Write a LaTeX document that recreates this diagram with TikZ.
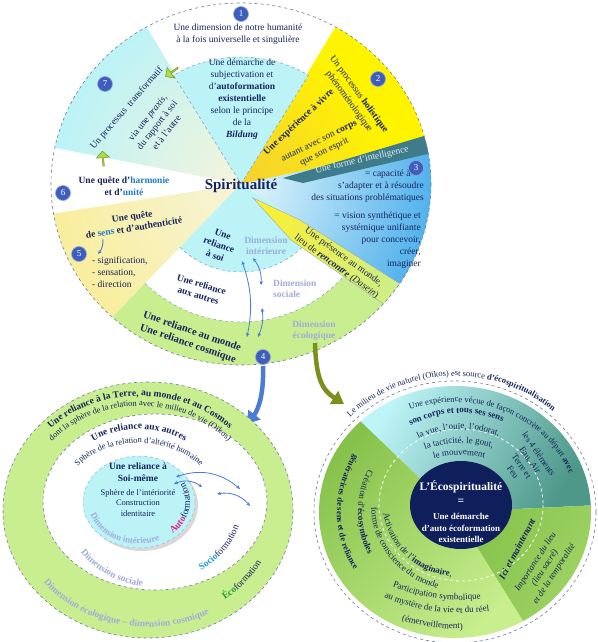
\documentclass[tikz,border=0pt]{standalone}
\usepackage{fontspec}
\setmainfont{Liberation Serif}
\usetikzlibrary{arrows.meta, decorations.text, shapes.arrows}
\definecolor{Navy}   {HTML}{16235C}
\definecolor{Deep}   {HTML}{0E1F5B}
\definecolor{NumB}   {HTML}{3E5EBE}
\definecolor{CyanF}  {HTML}{BBF3F7}
\definecolor{GreenF} {HTML}{C9EE8F}
\definecolor{YelF}   {HTML}{F9EE9C}
\definecolor{PaleY}  {HTML}{F6F4DA}
\definecolor{YelB}   {HTML}{FFF400}
\definecolor{Gold}   {HTML}{F4D032}
\definecolor{TealB}  {HTML}{3E7C8B}
\definecolor{BlueO}  {HTML}{52B2EC}
\definecolor{BlueI}  {HTML}{E6F8FC}
\definecolor{DimT}   {HTML}{A1ACDB}
\definecolor{ArrB}   {HTML}{4A7CD6}
\definecolor{Olive}  {HTML}{7B8F1D}
\definecolor{Lime}   {HTML}{A6DF46}
\definecolor{KeyB}   {HTML}{1C7BC9}
\definecolor{Rim}    {HTML}{6A7EA2}
\definecolor{RCyan}  {HTML}{BEF5F8}
\definecolor{RTeal}  {HTML}{4E9889}
\definecolor{RGreenD}{HTML}{86C24B}
\definecolor{RGreenM}{HTML}{84C24A}
\definecolor{RGreenL}{HTML}{C8EE8E}
\definecolor{Mag}    {HTML}{E3207F}
\definecolor{SocB}   {HTML}{1E9BE0}
\definecolor{EcoG}   {HTML}{26993A}
\definecolor{PresY}  {HTML}{FFF02A}
\newcommand\ftA{\fontsize{9.5}{11}\selectfont}
\newcommand\ftB{\fontsize{8.5}{10}\selectfont}
\newcommand\ftC{\fontsize{9}{10.5}\selectfont}
\tikzset{
  txt/.style={
    font=\fontsize{9.5}{12}\selectfont, text=Navy,
    align=center, inner sep=1pt,
  },
  btxt/.style={txt, font=\fontsize{9.5}{11.5}\selectfont\bfseries},
  dim/.style={
    font=\fontsize{9.5}{11}\selectfont\bfseries, text=DimT,
    align=center, inner sep=1pt,
  },
  num/.style={
    circle, fill=NumB, draw=NumB!55!white, line width=0.6pt,
    text=white, font=\fontsize{9}{9}\selectfont,
    inner sep=0pt, minimum size=15pt,
  },
  rim/.style={draw=Rim, dashed, line width=0.6pt},
  seam/.style={draw=Rim!80, dashed, line width=0.5pt},
  dbl/.style={
    {Stealth[length=4pt,width=3.5pt]}-{Stealth[length=4pt,width=3.5pt]},
    ArrB, line width=0.8pt,
  },
  fat/.style={
    -{Triangle[length=12pt,width=15pt]},
    line width=4.5pt, color=#1,
  },
  gblk/.style={
    single arrow, fill=Lime, draw=Olive, line width=0.5pt,
    minimum height=15pt, minimum width=13pt,
    single arrow head extend=2pt, inner sep=0pt,
  },
  arctext/.style={
    decorate,
    decoration={text along path, text align=center, text={#1}},
  },
}
\begin{document}
\begin{tikzpicture}[x=1pt,y=-1pt]
  \useasboundingbox (0,0) rectangle (597,642);

  % ---- upper wheel
  \coordinate (C) at (241,184);
  \begin{scope}
    \clip (C) ellipse[x radius=190, y radius=181];
    \fill[white] (C) ellipse[x radius=190, y radius=181];
    \begin{scope}
      \clip (C) -- ++(-12:200) arc[start angle=-12, end angle=-59, radius=200] -- cycle;
      \fill[YelB] (C) circle[radius=200];
      \shade[inner color=Gold, outer color=YelB] (C) circle[radius=150];
    \end{scope}
    \begin{scope}
      \clip (C) -- ++(33:200) arc[start angle=33, end angle=-12, radius=200] -- cycle;
      \shade[inner color=BlueI, outer color=BlueO] (C) circle[radius=190];
    \end{scope}
    \begin{scope}
      \clip (C) -- ++(-121:200) arc[start angle=-121, end angle=-169, radius=200] -- cycle;
      \shade[inner color=PaleY, outer color=CyanF] (C) circle[radius=190];
    \end{scope}
    \begin{scope}
      \clip (C) -- ++(-189:200) arc[start angle=-189, end angle=-226, radius=200] -- cycle;
      \shade[inner color=PaleY, outer color=YelF] (C) circle[radius=190];
    \end{scope}
    \fill[GreenF] (C) -- ++(-226:200) arc[start angle=-226, end angle=-327, radius=200] -- cycle;
    \fill[white] (C) -- ++(-226:138) arc[start angle=-226, end angle=-327, radius=138] -- cycle;
    \fill[CyanF] (C) -- ++(-226:88) arc[start angle=-226, end angle=-327, radius=88] -- cycle;
    \draw[seam] (C) ++(-226:138) arc[start angle=-226, end angle=-327, radius=138];
    \draw[seam] (C) ++(-226:88) arc[start angle=-226, end angle=-327, radius=88];
    \filldraw[fill=CyanF, seam] (C) -- ++(-59:131 and 127)
      arc[start angle=-59, end angle=-121, x radius=131, y radius=127] -- cycle;
    % bands
    \fill[TealB] (283,178) -- (330,164) -- (424,136) -- (432,153) -- (303,183) -- cycle;
    \shade[left color=PresY, right color=GreenF, draw=Rim!70, line width=0.4pt]
      (253,198) -- (300,220) -- (405,287) -- (385,305) -- (291,240) -- cycle;
  \end{scope}
  \draw[rim] (C) ellipse[x radius=190, y radius=181];

  \node[font=\fontsize{15}{15}\selectfont\bfseries, text=Navy] (spi) at (241,186) {Spiritualité};
  \node[txt] (t1) at (238,34) {Une dimension de notre humanité\\à la fois universelle et singulière};
  \node[txt] (t1b) at (242,99) {Une démarche de\\subjectivation et\\d’\textbf{autoformation}\\\textbf{existentielle}\\selon le principe\\de la\\\textbf{\textit{Bildung}}};
  \node[txt, rotate=-54] (t2) at (354,98) {Un processus \textbf{holistique}\\phénoménologique};
  \node[btxt, rotate=43] (t2b) at (299,122) {Une expérience à vivre};
  \node[txt, rotate=26] (t2c) at (322,147) {autant avec son \textbf{corps}\\que son esprit};
  \node[txt, text=white!85!TealB, rotate=13] (t3a) at (362,160) {Une forme d’intelligence};
  \node[txt, align=right, anchor=north east] (t3b) at (425,169) {= capacité à\hspace*{1.4em}\\s’adapter et à résoudre\\des situations problématiques};
  \node[txt, align=right, anchor=north east] (t3c) at (422,211) {= vision synthétique et\\systémique unifiante\\pour concevoir,\\créer,\\imaginer};
  \node[txt, rotate=-36] (t3d) at (340,262) {Une présence au monde,\\lieu de \textbf{\textit{rencontre}} (\textit{Dasein})};
  \node[txt, rotate=49] (t7a) at (127,108) {Un processus\hspace{0.5em}transformatif};
  \node[txt, rotate=52] (t7b) at (157,125) {via une \textit{praxis},\\du rapport à soi\\et à l’autre};
  \node[btxt] (t6) at (124,186) {Une quête d’\textcolor{KeyB}{harmonie}\\et d’\textcolor{KeyB}{unité}};
  \node[btxt, rotate=9] (t5) at (133,222) {Une quête\\de \textcolor{KeyB}{sens} et d’authenticité};
  \node[txt, align=left, anchor=north west] (t5b) at (91,256) {- signification,\\- sensation,\\- direction};
  \node[btxt, rotate=-20] (r1) at (219,245) {Une\\reliance\\à soi};
  \node[dim] (d1) at (266,246) {Dimension\\intérieure};
  \node[btxt, rotate=-17] (r2) at (200,290) {Une reliance\\aux autres};
  \node[dim, align=left, anchor=west] (d2) at (272,289) {Dimension\\sociale};
  \node[btxt, font=\fontsize{10.5}{13}\selectfont\bfseries, rotate=-19] (r3) at (190,338) {Une reliance au monde\\Une reliance cosmique};
  \node[dim] (d3) at (314,331) {Dimension\\écologique};

  \foreach \n/\x/\y in {1/241/14, 2/378/79, 3/416/168, 4/263/357, 5/79/254, 6/63/193, 7/105/84}{
    \node[num] (n\n) at (\x,\y) {\n};
  }
  \node[gblk, rotate=215] (g1) at (172,72) {};
  \node[gblk, rotate=95] (g2) at (103,159) {};

  \coordinate (s5a) at (103,239);
  \coordinate (s5b) at (98,254);
  \draw[-{Stealth[length=4pt,width=3.5pt]}, ArrB, line width=0.9pt] (s5a) to[bend left=20] (s5b);
  \coordinate (a1s) at (242,261);
  \coordinate (a1e) at (247,337);
  \coordinate (a2s) at (253,258);
  \coordinate (a2e) at (261,285);
  \coordinate (a3s) at (262,308);
  \coordinate (a3e) at (258,337);
  \draw[dbl] (a1s) to[bend left=15] (a1e);
  \draw[dbl] (a2s) to[bend left=20] (a2e);
  \draw[dbl] (a3s) to[bend left=15] (a3e);

  % ---- links to the two lower discs
  \coordinate (bA) at (263,366);
  \coordinate (bB) at (247,424);
  \draw[fat=ArrB] (bA) .. controls (264,395) and (258,410) .. (bB);
  \coordinate (oA) at (315,343);
  \coordinate (oB) at (344,404);
  \draw[fat=Olive] (oA) .. controls (316,378) and (322,390) .. (oB);

  % ---- left disc
  \coordinate (L) at (148,510);
  \coordinate (Lw) at (155,502);
  \coordinate (Lc) at (139,502);
  \filldraw[fill=GreenF, rim] (L) ellipse[x radius=145, y radius=128];
  \filldraw[fill=white, rim] (Lw) ellipse[x radius=112, y radius=88];
  \fill[black, opacity=0.15] (142,505) ellipse[x radius=56, y radius=46];
  \filldraw[fill=CyanF, draw=Rim!60, dashed, line width=0.5pt] (Lc) ellipse[x radius=56, y radius=46];
  \node[btxt] (s1) at (138,472) {Une reliance à\\Soi-même};
  \node[txt, font=\fontsize{8.5}{10.5}\selectfont] (s2) at (138,503) {Sphère de l’intériorité\\Construction\\identitaire};

  \path[arctext={|\ftA\bfseries\color{Navy}|Une reliance à la Terre, au monde et au Cosmos}]
    (140,510) ++(-175:128 and 114) arc[start angle=-175, end angle=-5, x radius=128, y radius=114];
  \path[arctext={|\ftB\color{Navy}|dont la sphère de la relation avec le milieu de vie (Oïkos)}]
    (140,510) ++(-175:117 and 104) arc[start angle=-175, end angle=-5, x radius=117, y radius=104];
  \path[arctext={|\ftA\bfseries\color{Navy}|Une reliance aux autres}]
    (Lc) ++(-170:83 and 73) arc[start angle=-170, end angle=-10, x radius=83, y radius=73];
  \path[arctext={|\ftB\color{Navy}|Sphère de la relation d’altérité humaine}]
    (Lc) ++(-172:77 and 59) arc[start angle=-172, end angle=-8, x radius=77, y radius=59];
  \path[arctext={|\ftC\bfseries\color{DimT}|Dimension intérieure}]
    (Lc) ++(-165:51 and 42) arc[start angle=-165, end angle=-323, x radius=51, y radius=42];
  \path[arctext={|\ftA\bfseries\color{Mag}|Auto|\ftA\color{Navy}|formation}]
    (Lc) ++(65:51 and 42) arc[start angle=65, end angle=-45, x radius=51, y radius=42];
  \path[arctext={|\ftA\bfseries\color{DimT}|Dimension sociale}]
    (Lw) ++(-180:92 and 85) arc[start angle=-180, end angle=-296, x radius=92, y radius=85];
  \path[arctext={|\ftA\bfseries\color{SocB}|Socio|\ftA\color{Navy}|formation}]
    (Lw) ++(85:88 and 80) arc[start angle=85, end angle=-11, x radius=88, y radius=80];
  \path[arctext={|\ftA\bfseries\color{EcoG}|Éco|\ftA\color{Navy}|formation}]
    (L) ++(80:128 and 112) arc[start angle=80, end angle=-2, x radius=128, y radius=112];
  \path[arctext={|\ftA\bfseries\color{DimT}|Dimension écologique – dimension cosmique}]
    (L) ++(-180:133 and 117) arc[start angle=-180, end angle=-334, x radius=133, y radius=117];

  \coordinate (b1s) at (176,477);
  \coordinate (b1e) at (240,489);
  \coordinate (b2s) at (174,484);
  \coordinate (b2e) at (202,487);
  \coordinate (b3s) at (217,494);
  \coordinate (b3e) at (250,506);
  \draw[dbl] (b1s) to[bend left=30] (b1e);
  \draw[dbl] (b2s) to[bend left=30] (b2e);
  \draw[dbl] (b3s) to[bend left=30] (b3e);

  % ---- right disc
  \coordinate (D) at (455,512);
  \coordinate (N) at (461,505);
  \coordinate (Q) at (461,420);
  \draw[rim] (D) ellipse[x radius=141, y radius=131];
  \shade[top color=RCyan, middle color=RCyan!88!RTeal, bottom color=RTeal, shading angle=60]
    (D) -- ++(-3:136 and 126) arc[start angle=-3, end angle=-134, x radius=136, y radius=126] -- cycle;
  \shade[top color=RGreenM, bottom color=RGreenM!60!RGreenL, shading angle=60]
    (D) -- ++(60:136 and 126) arc[start angle=60, end angle=-3, x radius=136, y radius=126] -- cycle;
  \shade[top color=RGreenD, middle color=RGreenL!85!RGreenD, bottom color=RGreenL, shading angle=45]
    (D) -- ++(-134:136 and 126) arc[start angle=-134, end angle=-300, x radius=136, y radius=126] -- cycle;
  \draw[white, dashed, line width=0.8pt] (N) ellipse[x radius=82, y radius=76];
  \fill[Deep] (N) ellipse[x radius=51, y radius=44];
  \node[font=\fontsize{11.5}{13}\selectfont\bfseries, text=white] (e1) at (461,487) {L’Écospiritualité};
  \node[font=\fontsize{11.5}{13}\selectfont\bfseries, text=white] (e2) at (461,502) {=};
  \node[font=\fontsize{9}{11.5}\selectfont\bfseries, text=white, align=center] (e3) at (461,528) {Une démarche\\d’auto écoformation\\existentielle};

  \path[arctext={|\ftB\color{Navy}|Le milieu de vie naturel (Oïkos) est source |\ftB\bfseries\color{Navy}|d’écospiritualisation}]
    (D) ++(-175:146 and 136) arc[start angle=-175, end angle=-9, x radius=146, y radius=136];
  \path[arctext={|\ftB\color{Navy}|Une expérience vécue de façon concrète au départ |\ftB\bfseries\color{Navy}|avec}]
    (D) ++(-146:122 and 110) arc[start angle=-146, end angle=16, x radius=122, y radius=110];
  \path[arctext={|\ftC\bfseries\color{Navy}|son corps et tous ses sens}]
    (N) ++(-160:100 and 92) arc[start angle=-160, end angle=-26, x radius=100, y radius=92];
  \path[arctext={|\ftC\color{Navy}|la vue, l’ouïe, l’odorat,}]
    (N) ++(-165:88 and 76) arc[start angle=-165, end angle=-19, x radius=88, y radius=76];
  \path[arctext={|\ftC\color{Navy}|la tacticité, le gout,}]
    (N) ++(-165:80 and 62) arc[start angle=-165, end angle=-19, x radius=80, y radius=62];
  \path[arctext={|\ftC\color{Navy}|le mouvement}]
    (N) ++(-165:72 and 50) arc[start angle=-165, end angle=-19, x radius=72, y radius=50];
  \path[arctext={|\ftC\color{Navy}|Activation de l’|\ftC\bfseries\color{Navy}|imaginaire|\ftC\color{Navy}|,}]
    (N) ++(-165:78 and 72) arc[start angle=-165, end angle=-283, x radius=78, y radius=72];
  \path[arctext={|\ftC\color{Navy}|forme de conscience du monde}]
    (N) ++(-160:90 and 86) arc[start angle=-160, end angle=-276, x radius=90, y radius=86];
  \path[arctext={|\ftC\color{Navy}|Participation symbolique}]
    (Q) ++(-242:180) arc[start angle=-242, end angle=-282, radius=180];
  \path[arctext={|\ftC\color{Navy}|au mystère de la vie et du réel}]
    (Q) ++(-242:193) arc[start angle=-242, end angle=-283, radius=193];
  \path[arctext={|\ftC\color{Navy}|(émerveillement)}]
    (Q) ++(-245:209) arc[start angle=-245, end angle=-279, radius=209];
  \path[arctext={|\ftC\color{Navy}|Création d’|\ftC\bfseries\color{Navy}|écosymboles}]
    (D) ++(-130:97 and 95) arc[start angle=-130, end angle=-230, x radius=97, y radius=95];
  \path[arctext={|\ftB\bfseries\color{Navy}|génératrices de sens et de reliance}]
    (D) ++(-115:118 and 112) arc[start angle=-115, end angle=-245, x radius=118, y radius=112];

  \node[txt, font=\fontsize{9}{10.5}\selectfont, rotate=-55] (el) at (526,463) {les 4 éléments\\Eau, Air\\Terre et\\Feu};
  \node[txt, font=\fontsize{9.5}{11}\selectfont\bfseries\itshape, rotate=62] (ici) at (517,549) {Ici et maintenant};
  \node[txt, font=\fontsize{9}{11}\selectfont\itshape, rotate=57] (imp) at (545,568) {Importance du lieu\\(lieu sacré)\\et de la temporalité};
\end{tikzpicture}
\end{document}
